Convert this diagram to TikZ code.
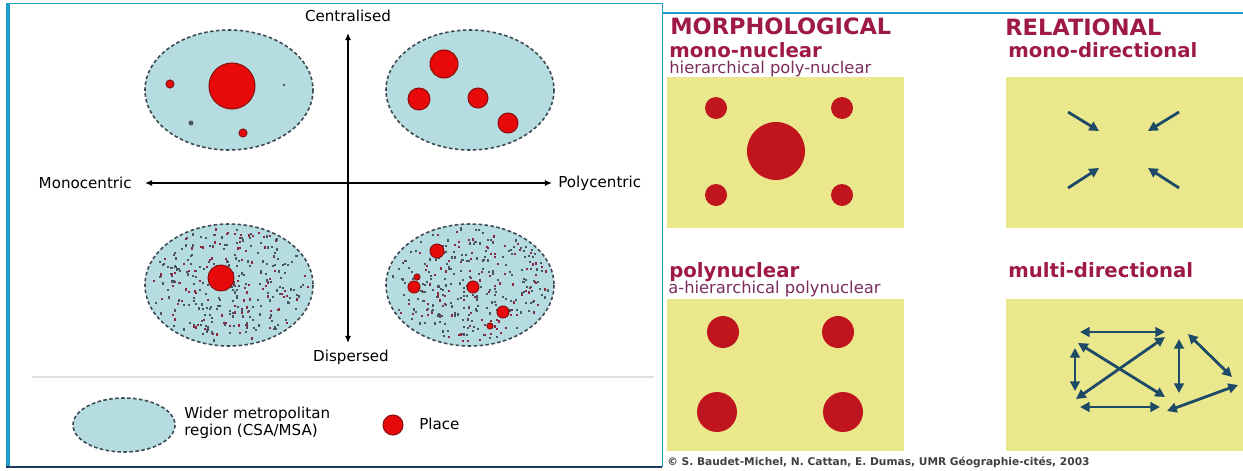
\documentclass[tikz,border=0pt]{standalone}
\usepackage{fontspec}
\setmainfont{DejaVu Sans}
\usetikzlibrary{arrows.meta}

\begin{document}
\begin{tikzpicture}[
    x=0.02cm, y=-0.02cm,
    every node/.style={font=\fontsize{8.6}{10}\selectfont, inner sep=0pt},
    region/.style={fill=regionblue, draw=regionedge, line width=0.9pt,
        dash pattern=on 2pt off 1.4pt},
    place/.style={fill=placered, draw=placedark, line width=0.6pt},
    axis/.style={line width=0.9pt, {Latex[length=4pt,width=3.5pt]}-{Latex[length=4pt,width=3.5pt]}},
    head/.style={font=\bfseries\fontsize{12.8}{14}\selectfont, text=headred, anchor=base west},
    kind/.style={font=\bfseries\fontsize{11.2}{13}\selectfont, text=headred, anchor=base west},
    sub/.style={font=\fontsize{9.3}{11}\selectfont, text=subred, anchor=base west},
    flow/.style={line width=1.6pt, draw=flowblue, -{Triangle[length=5.5pt,width=5.5pt]}},
    twoway/.style={flow, {Triangle[length=5.5pt,width=5.5pt]}-{Triangle[length=5.5pt,width=5.5pt]}},
]

\definecolor{regionblue}{HTML}{B5DCE0}
\definecolor{regionedge}{HTML}{3E4850}
\definecolor{placered}{HTML}{E80A0A}
\definecolor{placedark}{HTML}{8A1010}
\definecolor{speckgrey}{HTML}{4A5560}
\definecolor{speckred}{HTML}{8A2A40}
\definecolor{framecyan}{HTML}{1E9CC8}
\definecolor{framenavy}{HTML}{1B3A55}
\definecolor{headred}{HTML}{9E1A45}
\definecolor{subred}{HTML}{7B2D5E}
\definecolor{panelyellow}{HTML}{EAE78C}
\definecolor{nucleusred}{HTML}{C0141E}
\definecolor{flowblue}{HTML}{1D4A66}

% ================================================================
%   one unit is one pixel of the 1243 x 470 original
%   left panel    x 8 .. 662     the four city regions + legend
%   right panel   x 662 .. 1243  morphological / relational
% ================================================================
\useasboundingbox[fill=white] (0,0) rectangle (1243,470);

% ---------------------------------------------------------------- frame
\draw[framecyan, line width=0.5pt] (8,3) -- (662,3) -- (662,467);
\draw[framecyan, line width=2.6pt] (8,3) -- (8,467);
\draw[framenavy, line width=1.5pt] (6,467) -- (662,467);
\draw[framecyan, line width=0.6pt] (662,13) -- (1243,13);

% ---------------------------------------------------------------- axes
\coordinate (north) at (348,33);
\coordinate (south) at (348,343);
\coordinate (west)  at (145,183);
\coordinate (east)  at (552,183);
\draw[axis] (south) -- (north);
\draw[axis] (west) -- (east);

\node[anchor=south] (centralised) at (north|-0,22) {Centralised};
\node[anchor=north] (dispersed) at (351,350) {Dispersed};
\node[anchor=east] (monocentric) at (132,183) {Monocentric};
\node[anchor=west] (polycentric) at (558,183) {Polycentric};

% ---------------------------------------------------------------- regions
\draw[region] (229,90)  ellipse [x radius=84, y radius=60];
\draw[region] (470,90)  ellipse [x radius=84, y radius=60];
\draw[region] (229,285) ellipse [x radius=84, y radius=61];
\draw[region] (470,285) ellipse [x radius=84, y radius=61];

% scattered settlement in the two dispersed regions
\pgfmathsetseed{11}
\foreach \cx in {229, 470} {
    \foreach \i in {1,...,330} {
        \pgfmathsetmacro{\a}{360*rnd}
        \pgfmathsetmacro{\rr}{0.94*sqrt(rnd)}
        \pgfmathtruncatemacro{\k}{mod(\i,3)}
        \ifnum\k=0 \colorlet{speck}{speckred}\else \colorlet{speck}{speckgrey}\fi
        \fill[speck] ({\cx+84*\rr*cos(\a)-1}, {285+61*\rr*sin(\a)-1}) rectangle ++(2,2.2);
    }
}

% monocentric, centralised
\fill[place] (232,86) circle [radius=23];
\fill[place] (170,84) circle [radius=4];
\fill[place] (243,133) circle [radius=4];
\fill[speckgrey] (191,123) circle [radius=2.5];
\fill[speckgrey] (284,85) circle [radius=1.3];

% polycentric, centralised
\foreach \px/\py/\pr in {444/64/14, 419/99/11, 478/98/10, 508/123/10} {
    \fill[place] (\px,\py) circle [radius=\pr];
}

% monocentric, dispersed
\fill[place] (221,278) circle [radius=13];

% polycentric, dispersed
\foreach \px/\py/\pr in {437/251/7, 414/287/6, 473/287/6, 503/312/6, 417/277/3, 490/326/3} {
    \fill[place] (\px,\py) circle [radius=\pr];
}

% ---------------------------------------------------------------- legend
\draw[gray!25, line width=0.7pt] (32,377) -- (654,377);
\draw[region] (124,425) ellipse [x radius=51, y radius=27];
\node[anchor=west, align=left] (regionkey) at (184,423)
    {Wider metropolitan\\region (CSA/MSA)};
\fill[place] (393,425) circle [radius=10];
\node[anchor=west] (placekey) at (419,424) {Place};

% ---------------------------------------------------------------- morphological
\node[head] (morph) at (670,34) {MORPHOLOGICAL};
\node[kind] (mononuc) at (669,57) {mono-nuclear};
\node[sub]  (hier) at (669,73) {hierarchical poly-nuclear};
\fill[panelyellow] (667,77) rectangle (904,228);
\fill[nucleusred] (776,151) circle [radius=29];
\foreach \px/\py in {716/108, 842/108, 716/195, 842/195} {
    \fill[nucleusred] (\px,\py) circle [radius=11];
}

\node[kind] (polynuc) at (669,277) {polynuclear};
\node[sub]  (ahier) at (668,293) {a-hierarchical polynuclear};
\fill[panelyellow] (667,299) rectangle (904,451);
\foreach \px/\py/\pr in {723/332/16, 838/332/16, 717/412/20, 843/412/20} {
    \fill[nucleusred] (\px,\py) circle [radius=\pr];
}

% ---------------------------------------------------------------- relational
\node[head] (rel) at (1005,35) {RELATIONAL};
\node[kind] (monodir) at (1008,57) {mono-directional};
\fill[panelyellow] (1006,77) rectangle (1243,228);
\foreach \ax/\ay/\bx/\by in {1068/112/1099/131, 1179/112/1148/131,
                             1068/188/1099/168, 1179/188/1148/168} {
    \draw[flow] (\ax,\ay) -- (\bx,\by);
}

\node[kind] (multidir) at (1008,277) {multi-directional};
\fill[panelyellow] (1006,299) rectangle (1243,451);
\foreach \ax/\ay/\bx/\by in {1080/332/1165/332, 1080/407/1160/407,
                             1075/348/1075/391, 1078/343/1165/397,
                             1165/337/1076/399, 1179/339/1179/393,
                             1188/334/1232/377, 1238/385/1167/411} {
    \draw[twoway] (\ax,\ay) -- (\bx,\by);
}

\node[anchor=base west, font=\bfseries\fontsize{6.05}{7}\selectfont, text=black!75] (credit)
    at (667,465) {© S. Baudet-Michel, N. Cattan, E. Dumas, UMR Géographie-cités, 2003};

\end{tikzpicture}
\end{document}
